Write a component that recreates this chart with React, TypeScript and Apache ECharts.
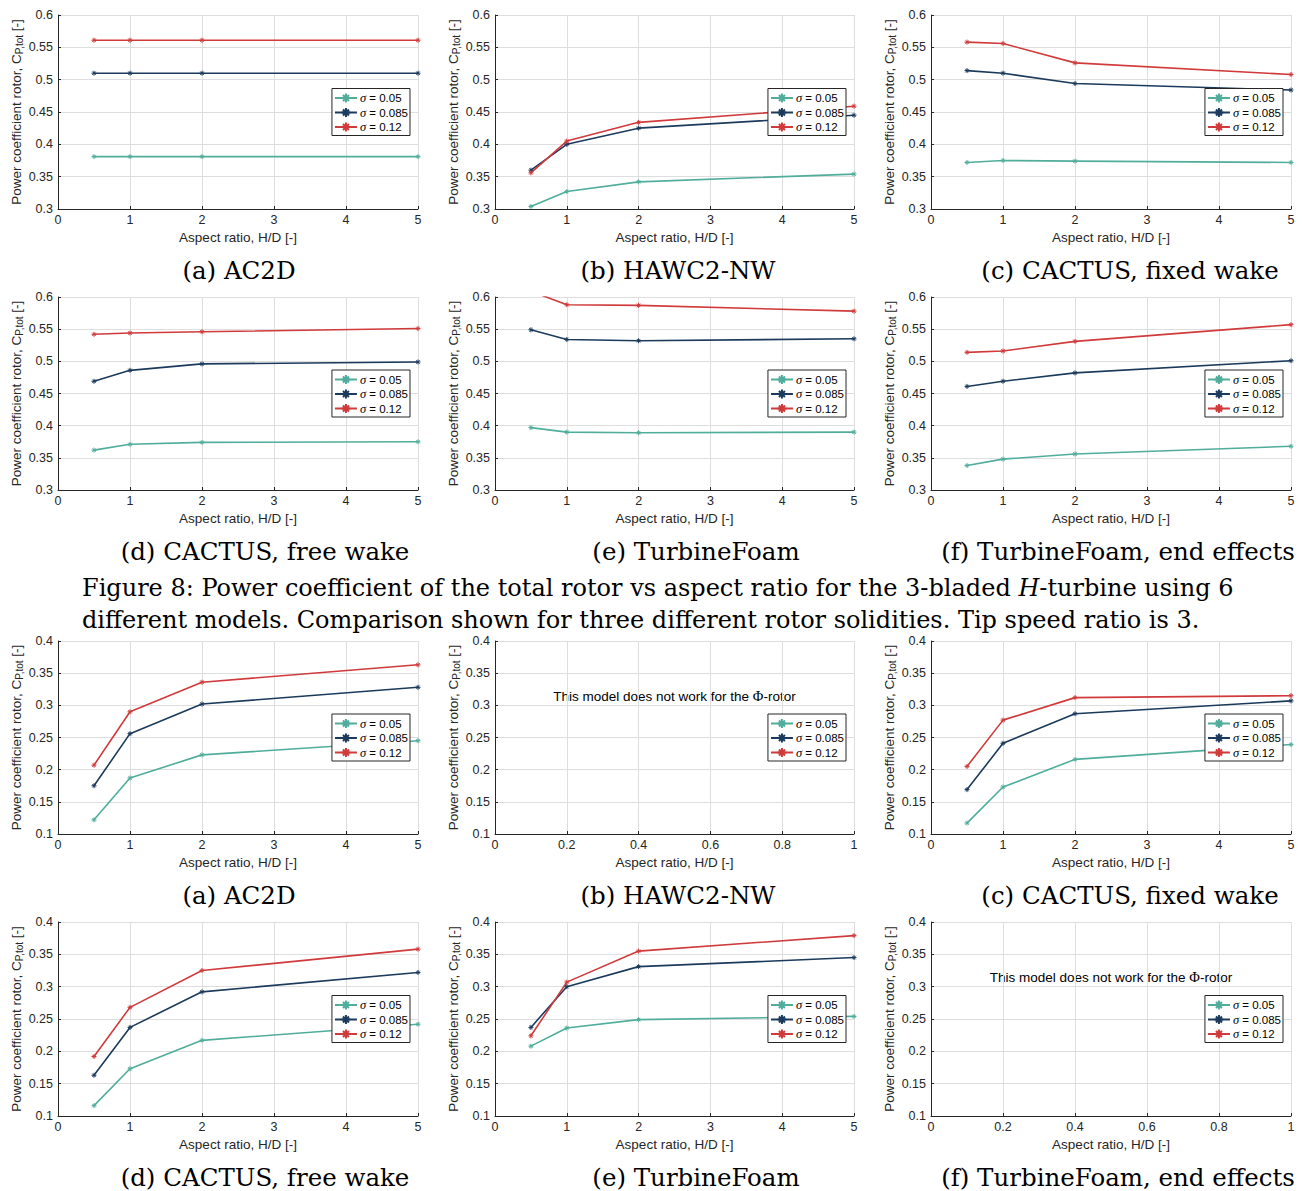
import React, { useEffect, useRef } from 'react';
import * as echarts from 'echarts';

// Aspect ratios H/D at which every model was run
const aspectRatio = [0.5, 1, 2, 5];
const sigmaNames = ['σ = 0.05', 'σ = 0.085', 'σ = 0.12'];
const sigmaColors = ['#50ad9b', '#1b3a5c', '#d03a3b'];

// H-rotor: rows are σ = 0.05, 0.085, 0.12
const hAC2D = [
  [0.381, 0.381, 0.381, 0.381],
  [0.510, 0.510, 0.510, 0.510],
  [0.561, 0.561, 0.561, 0.561],
];
const hHAWC2 = [
  [0.304, 0.327, 0.342, 0.354],
  [0.360, 0.400, 0.425, 0.445],
  [0.356, 0.405, 0.434, 0.459],
];
const hCactusFixed = [
  [0.372, 0.375, 0.374, 0.372],
  [0.514, 0.510, 0.494, 0.484],
  [0.558, 0.556, 0.526, 0.508],
];
const hCactusFree = [
  [0.362, 0.371, 0.374, 0.375],
  [0.469, 0.486, 0.496, 0.499],
  [0.542, 0.544, 0.546, 0.551],
];
const hTurbineFoam = [
  [0.397, 0.390, 0.389, 0.390],
  [0.549, 0.534, 0.532, 0.535],
  [0.609, 0.588, 0.587, 0.578],
];
const hTurbineFoamEnd = [
  [0.338, 0.348, 0.356, 0.368],
  [0.461, 0.469, 0.482, 0.501],
  [0.514, 0.516, 0.531, 0.557],
];

// Φ-rotor: rows are σ = 0.05, 0.085, 0.12 (null = model not applicable)
const phiAC2D = [
  [0.122, 0.187, 0.223, 0.245],
  [0.175, 0.256, 0.302, 0.328],
  [0.207, 0.290, 0.336, 0.363],
];
const phiHAWC2: number[][] | null = null;
const phiCactusFixed = [
  [0.117, 0.173, 0.216, 0.239],
  [0.169, 0.241, 0.287, 0.307],
  [0.205, 0.277, 0.312, 0.315],
];
const phiCactusFree = [
  [0.116, 0.173, 0.217, 0.242],
  [0.163, 0.237, 0.292, 0.322],
  [0.192, 0.268, 0.325, 0.358],
];
const phiTurbineFoam = [
  [0.208, 0.236, 0.249, 0.254],
  [0.237, 0.300, 0.331, 0.345],
  [0.224, 0.307, 0.355, 0.379],
];
const phiTurbineFoamEnd: number[][] | null = null;

const panelCaptions = [
  '(a) AC2D',
  '(b) HAWC2-NW',
  '(c) CACTUS, fixed wake',
  '(d) CACTUS, free wake',
  '(e) TurbineFoam',
  '(f) TurbineFoam, end effects',
];

// y-axis ranges for the two rotor types
const hYRange = { min: 0.3, max: 0.6, interval: 0.05 };
const phiYRange = { min: 0.1, max: 0.4, interval: 0.05 };
const xRangeAspect = { min: 0, max: 5, interval: 1 };
const xRangeEmpty = { min: 0, max: 1, interval: 0.2 };

const figureCaptionLine1 =
  'Figure 8: Power coefficient of the total rotor vs aspect ratio for the 3-bladed {i|H}-turbine using 6';
const figureCaptionLine2 =
  'different models. Comparison shown for three different rotor solidities. Tip speed ratio is 3.';
const notApplicableText = 'This model does not work for the {phi|Φ}-rotor';

const W = 1303;
const H = 1191;

const cols = [
  { l: 58, r: 418 },
  { l: 495, r: 854 },
  { l: 931, r: 1291 },
];
const rows = [
  { t: 15, b: 209 },
  { t: 297, b: 490 },
  { t: 641, b: 834 },
  { t: 922, b: 1116 },
];
// horizontal centres of the sub-figure captions (a)..(f)
const captionCentres = [239, 678, 1130, 265, 696, 1118];

const AXIS_COLOR = '#262626';
const GRID_COLOR = '#dedede';
const SANS = '"Liberation Sans", Arial, sans-serif';
const SERIF = '"DejaVu Serif", serif';
const ASTERISK = 'path://M5 0V10M0 5H10M1.6 1.6L8.4 8.4M8.4 1.6L1.6 8.4';

function buildOption() {
  const panels = [
    { data: hAC2D, y: hYRange },
    { data: hHAWC2, y: hYRange },
    { data: hCactusFixed, y: hYRange },
    { data: hCactusFree, y: hYRange },
    { data: hTurbineFoam, y: hYRange },
    { data: hTurbineFoamEnd, y: hYRange },
    { data: phiAC2D, y: phiYRange },
    { data: phiHAWC2, y: phiYRange },
    { data: phiCactusFixed, y: phiYRange },
    { data: phiCactusFree, y: phiYRange },
    { data: phiTurbineFoam, y: phiYRange },
    { data: phiTurbineFoamEnd, y: phiYRange },
  ];

  const grid: any[] = [];
  const xAxis: any[] = [];
  const yAxis: any[] = [];
  const series: any[] = [];
  const legend: any[] = [];
  const graphic: any[] = [];

  panels.forEach((p, i) => {
    const row = rows[Math.floor(i / 3)];
    const col = cols[i % 3];
    const xr = p.data ? xRangeAspect : xRangeEmpty;
    grid.push({
      left: col.l,
      top: row.t,
      width: col.r - col.l,
      height: row.b - row.t,
      containLabel: false,
    });
    xAxis.push({
      type: 'value',
      gridIndex: i,
      min: xr.min,
      max: xr.max,
      interval: xr.interval,
      name: 'Aspect ratio, H/D [-]',
      nameLocation: 'middle',
      nameGap: 21,
      nameTextStyle: { fontFamily: SANS, fontSize: 13.5, color: AXIS_COLOR },
      axisLine: { show: true, lineStyle: { color: AXIS_COLOR, width: 1 } },
      axisTick: { show: true, inside: true, length: 3, lineStyle: { color: AXIS_COLOR } },
      axisLabel: { fontFamily: SANS, fontSize: 12.5, color: AXIS_COLOR, margin: 4 },
      splitLine: { show: true, lineStyle: { color: GRID_COLOR, width: 1 } },
    });
    yAxis.push({
      type: 'value',
      gridIndex: i,
      min: p.y.min,
      max: p.y.max,
      interval: p.y.interval,
      name: '{n|Power coefficient rotor, C}{sub|P,tot}{n| [-]}',
      nameLocation: 'middle',
      nameRotate: 90,
      nameGap: 33,
      nameTextStyle: {
        fontFamily: SANS,
        fontSize: 13.5,
        color: AXIS_COLOR,
        rich: {
          n: { fontFamily: SANS, fontSize: 13.5, color: AXIS_COLOR, lineHeight: 15, verticalAlign: 'top' },
          sub: {
            fontFamily: SANS,
            fontSize: 10,
            color: AXIS_COLOR,
            lineHeight: 11,
            verticalAlign: 'bottom',
            padding: [7, 0, 0, 0],
          },
        },
      },
      axisLine: { show: true, lineStyle: { color: AXIS_COLOR, width: 1 } },
      axisTick: { show: true, inside: true, length: 3, lineStyle: { color: AXIS_COLOR } },
      axisLabel: { fontFamily: SANS, fontSize: 12.5, color: AXIS_COLOR, margin: 5 },
      splitLine: { show: true, lineStyle: { color: GRID_COLOR, width: 1 } },
    });

    if (p.data) {
      p.data.forEach((vals, s) => {
        series.push({
          type: 'line',
          name: sigmaNames[s],
          xAxisIndex: i,
          yAxisIndex: i,
          data: aspectRatio.map((x, k) => [x, vals[k]]),
          clip: true,
          symbol: ASTERISK,
          symbolSize: 5,
          showSymbol: true,
          lineStyle: { color: sigmaColors[s], width: 1.6 },
          itemStyle: { color: sigmaColors[s], borderColor: sigmaColors[s], borderWidth: 1 },
          z: 2,
        });
      });
    } else {
      graphic.push({
        type: 'text',
        x: (col.l + col.r) / 2,
        y: row.t + 55,
        style: {
          text: notApplicableText,
          font: `13.5px ${SANS}`,
          fill: '#000',
          align: 'center',
          verticalAlign: 'middle',
          rich: {
            phi: { fontFamily: '"Liberation Serif", serif', fontSize: 14.5, fill: '#000' },
          },
        },
      });
    }

    legend.push({
      orient: 'vertical',
      right: W - (col.r - 8),
      top: (row.t + row.b) / 2 - 23.5,
      data: sigmaNames,
      selectedMode: false,
      backgroundColor: '#fff',
      borderColor: AXIS_COLOR,
      borderWidth: 1,
      borderRadius: 0,
      padding: [3, 2, 2, 2],
      itemGap: 1.5,
      itemWidth: 22,
      itemHeight: 11,
      formatter: (name: string) => '{s|σ}' + name.slice(1),
      textStyle: {
        fontFamily: SANS,
        fontSize: 11.5,
        color: '#000',
        padding: [0, 0, 0, -2],
        rich: {
          s: { fontFamily: '"Liberation Serif", serif', fontStyle: 'italic', fontSize: 12.5, color: '#000' },
        },
      },
      z: 10,
    });

    graphic.push({
      type: 'text',
      x: captionCentres[i % 6],
      y: row.b + 61,
      style: {
        text: panelCaptions[i % 6],
        font: `24.5px ${SERIF}`,
        fill: '#000',
        align: 'center',
        verticalAlign: 'middle',
      },
    });
  });

  graphic.push({
    type: 'text',
    x: 82,
    y: 588,
    style: {
      text: figureCaptionLine1,
      font: `24px ${SERIF}`,
      fill: '#000',
      align: 'left',
      verticalAlign: 'middle',
      rich: { i: { fontFamily: SERIF, fontStyle: 'italic', fontSize: 24, fill: '#000' } },
    },
  });
  graphic.push({
    type: 'text',
    x: 82,
    y: 620,
    style: {
      text: figureCaptionLine2,
      font: `24px ${SERIF}`,
      fill: '#000',
      align: 'left',
      verticalAlign: 'middle',
    },
  });

  return {
    animation: false,
    backgroundColor: '#fff',
    grid,
    xAxis,
    yAxis,
    series,
    legend,
    graphic,
  };
}

export default function App() {
  const ref = useRef<HTMLDivElement>(null);
  useEffect(() => {
    if (!ref.current) return;
    const chart = echarts.init(ref.current, undefined, { renderer: 'svg' });
    chart.setOption(buildOption() as any);
    return () => chart.dispose();
  }, []);
  return (
    <div
      ref={ref}
      style={{ position: 'absolute', left: 0, top: 0, width: W, height: H, background: '#fff' }}
    />
  );
}
